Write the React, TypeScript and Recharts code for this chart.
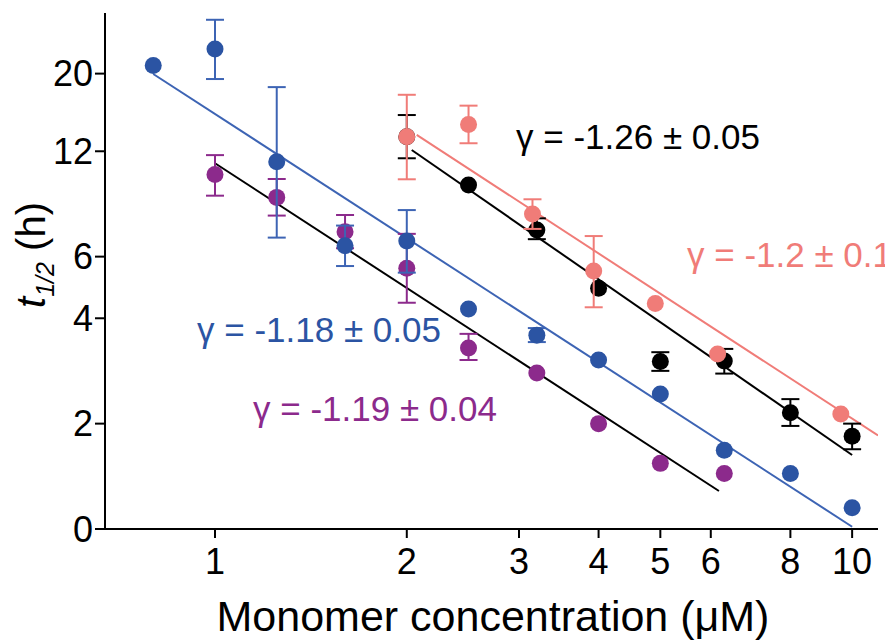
import React from 'react';
import { ScatterChart, Scatter, XAxis, YAxis, Customized } from 'recharts';

// ---- data ----
const xTicks = [1, 2, 3, 4, 5, 6, 8, 10];
const yTickValues = [1, 2, 4, 6, 12, 20];
const yTickLabels = ['0', '2', '4', '6', '12', '20'];

const blueX = [0.8, 1, 1.25, 1.6, 2, 2.5, 3.2, 4, 5, 6.3, 8, 10];
const blueY = [21.1, 23.5, 11.2, 6.45, 6.65, 4.25, 3.58, 3.04, 2.43, 1.68, 1.44, 1.15];
const blueLo = [null, 19.3, 6.8, 5.64, 5.4, null, 3.42, null, null, null, null, null];
const blueHi = [null, 28.5, 18.3, 7.36, 8.15, null, 3.75, null, null, null, null, null];

const purpleX = [1, 1.25, 1.6, 2, 2.5, 3.2, 4, 5, 6.3];
const purpleY = [10.3, 8.86, 7.07, 5.56, 3.29, 2.79, 2.0, 1.54, 1.44];
const purpleLo = [8.96, 7.86, 6.34, 4.43, 3.04, null, null, null, null];
const purpleHi = [11.7, 10.0, 7.89, 6.97, 3.61, null, null, null, null];

const blackX = [2, 2.5, 3.2, 4, 5, 6.3, 8, 10];
const blackY = [13.2, 9.61, 7.15, 4.87, 3.01, 3.02, 2.15, 1.84];
const blackLo = [11.46, null, 6.73, null, 2.83, 2.78, 1.97, 1.69];
const blackHi = [15.23, null, 7.72, null, 3.2, 3.27, 2.35, 2.0];

const pinkX = [2, 2.5, 3.15, 3.93, 4.91, 6.15, 9.6];
const pinkY = [13.2, 14.3, 7.94, 5.46, 4.41, 3.16, 2.13];
const pinkLo = [9.98, 12.65, 7.2, 4.3, null, null, null];
const pinkHi = [17.4, 16.2, 8.75, 6.87, null, null, null];

const blueFitX = [0.8, 10];
const blueFitY = [19.95, 1.015];
const purpleFitX = [1, 6.18];
const purpleFitY = [11.09, 1.284];
const blackFitX = [2.036, 10];
const blackFitY = [12.1, 1.627];
const pinkFitX = [2.073, 10.98];
const pinkFitY = [13.36, 1.85];

const annotations = [
  { text: 'γ = -1.26 ± 0.05', color: '#000000' },
  { text: 'γ = -1.2 ± 0.1', color: '#f07c78' },
  { text: 'γ = -1.18 ± 0.05', color: '#2b54a3' },
  { text: 'γ = -1.19 ± 0.04', color: '#8c2a8c' },
];

// ---- styling ----
const BLUE = '#2b54a3';
const BLUE_LINE = '#3d64b4';
const PURPLE = '#8c2a8c';
const BLACK = '#000000';
const PINK = '#f07c78';
const FONT = 'Liberation Sans, Arial, Helvetica, sans-serif';

const zipPts = (xs: number[], ys: number[]) => xs.map((x, i) => ({ x, y: ys[i] }));

const errorSegments = (xs: number[], lo: (number | null)[], hi: (number | null)[]) =>
  xs
    .map((x, i) => (lo[i] != null && hi[i] != null ? [{ x, y: lo[i] as number }, { x, y: hi[i] as number }] : null))
    .filter((s) => s != null) as { x: number; y: number }[][];

const dot = (color: string) => (props: any) =>
  props.cx == null ? <g /> : <circle cx={props.cx} cy={props.cy} r={8.5} fill={color} />;

const cap = (color: string) => (props: any) =>
  props.cx == null ? (
    <g />
  ) : (
    <line x1={props.cx - 9} x2={props.cx + 9} y1={props.cy} y2={props.cy} stroke={color} strokeWidth={2} />
  );

const noDot = () => <g />;

const annoPos = [
  { x: 508, y: 141 },
  { x: 679, y: 259 },
  { x: 189, y: 334 },
  { x: 245, y: 413 },
];

const Overlay = () => (
  <g fontFamily={FONT}>
    {annotations.map((a, i) => (
      <text key={i} x={annoPos[i].x} y={annoPos[i].y} fill={a.color} fontSize={35}>
        {a.text}
      </text>
    ))}
    <text x={485} y={623} textAnchor="middle" fontSize={43} fill="#000">
      Monomer concentration (μM)
    </text>
    <text transform="translate(37,247) rotate(-90)" textAnchor="middle" fontSize={40} fill="#000">
      <tspan fontStyle="italic">t</tspan>
      <tspan fontStyle="italic" fontSize={25} dy={9}>1/2</tspan>
      <tspan dy={-9}> (h)</tspan>
    </text>
  </g>
);

const seriesList = [
  { x: purpleX, y: purpleY, lo: purpleLo, hi: purpleHi, color: PURPLE, barColor: PURPLE },
  { x: blackX, y: blackY, lo: blackLo, hi: blackHi, color: BLACK, barColor: BLACK },
  { x: blueX, y: blueY, lo: blueLo, hi: blueHi, color: BLUE, barColor: BLUE_LINE },
  { x: pinkX, y: pinkY, lo: pinkLo, hi: pinkHi, color: PINK, barColor: PINK },
];

export default function App() {
  return (
    <ScatterChart width={885} height={635} margin={{ top: 5, right: 15, left: 0, bottom: 54 }}>
      <XAxis
        type="number"
        dataKey="x"
        scale="log"
        domain={[0.672, 10.98]}
        allowDataOverflow
        ticks={xTicks}
        height={60}
        tickSize={9}
        tickMargin={10}
        stroke="#000"
        strokeWidth={2}
        tick={{ fontSize: 36, fill: '#000', fontFamily: FONT }}
      />
      <YAxis
        type="number"
        dataKey="y"
        scale="log"
        domain={[1, 29.8]}
        allowDataOverflow
        ticks={yTickValues}
        tickFormatter={(v: number) => yTickLabels[yTickValues.indexOf(v)] ?? ''}
        width={97}
        tickSize={10}
        tickMargin={2}
        stroke="#000"
        strokeWidth={2}
        tick={{ fontSize: 36, fill: '#000', fontFamily: FONT }}
      />

      <Scatter data={zipPts(blueFitX, blueFitY)} line={{ stroke: BLUE_LINE, strokeWidth: 2 }} shape={noDot} isAnimationActive={false} />
      <Scatter data={zipPts(purpleFitX, purpleFitY)} line={{ stroke: BLACK, strokeWidth: 2 }} shape={noDot} isAnimationActive={false} />
      <Scatter data={zipPts(blackFitX, blackFitY)} line={{ stroke: BLACK, strokeWidth: 2 }} shape={noDot} isAnimationActive={false} />
      <Scatter data={zipPts(pinkFitX, pinkFitY)} line={{ stroke: PINK, strokeWidth: 2 }} shape={noDot} isAnimationActive={false} />

      {seriesList.flatMap((s, si) => [
        ...errorSegments(s.x, s.lo, s.hi).map((seg, k) => (
          <Scatter
            key={`err-${si}-${k}`}
            data={seg}
            line={{ stroke: s.barColor, strokeWidth: 2 }}
            shape={cap(s.barColor)}
            isAnimationActive={false}
          />
        )),
        <Scatter key={`pts-${si}`} data={zipPts(s.x, s.y)} shape={dot(s.color)} isAnimationActive={false} />,
      ])}

      <Customized component={Overlay} />
    </ScatterChart>
  );
}
